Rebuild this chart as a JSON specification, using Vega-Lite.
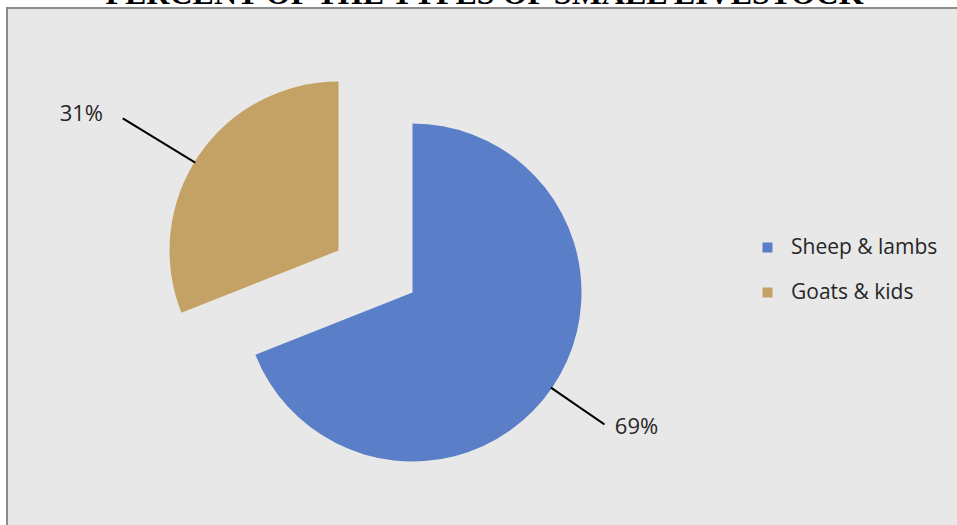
{
  "$schema": "https://vega.github.io/schema/vega-lite/v6.json",
  "autosize": {"type": "none"},
  "padding": {"left": 7, "top": 8, "right": 0, "bottom": 0},
  "width": 955,
  "height": 525,
  "background": "white",
  "view": {"fill": "#e8e8e8", "stroke": "#8c8c8c", "strokeWidth": 2},
  "data": {
    "values": [
      {"category": "Sheep & lambs", "value": 0.69},
      {"category": "Goats & kids", "value": 0.31}
    ]
  },
  "transform": [
    {"stack": "value", "groupby": [], "as": ["v0", "v1"], "sort": [{"field": "value", "order": "descending"}]}
  ],
  "layer": [
    {
      "data": {"values": [{"title": "PERCENT OF THE TYPES OF SMALL LIVESTOCK"}]},
      "mark": {"type": "text", "font": "Liberation Serif", "fontSize": 32, "fontWeight": "bold", "color": "black", "align": "center", "baseline": "alphabetic", "yOffset": -266.5},
      "encoding": {"text": {"field": "title", "type": "nominal"}}
    },
    {
      "transform": [{"filter": "datum.category === 'Sheep & lambs'"}],
      "mark": {"type": "arc", "radius": 169, "xOffset": -72, "yOffset": 22},
      "encoding": {
        "theta": {"field": "v0", "type": "quantitative", "scale": {"domain": [0, 1]}},
        "theta2": {"field": "v1"},
        "color": {
          "field": "category",
          "type": "nominal",
          "scale": {"domain": ["Sheep & lambs", "Goats & kids"], "range": ["#5b7ec8", "#c4a265"]},
          "legend": {
            "title": null,
            "orient": "none",
            "legendX": 750,
            "legendY": 229,
            "padding": 0,
            "symbolType": "square",
            "symbolSize": 100,
            "symbolStrokeWidth": 0,
            "labelFont": "Open Sans",
            "labelFontSize": 21,
            "labelColor": "#262626",
            "labelOffset": 13,
            "rowPadding": 23
          }
        }
      }
    },
    {
      "transform": [{"filter": "datum.category === 'Goats & kids'"}],
      "mark": {"type": "arc", "radius": 169, "xOffset": -146, "yOffset": -20},
      "encoding": {
        "theta": {"field": "v0", "type": "quantitative", "scale": {"domain": [0, 1]}},
        "theta2": {"field": "v1"},
        "color": {"field": "category", "type": "nominal"}
      }
    },
    {
      "transform": [{"filter": "datum.category === 'Goats & kids'"}],
      "mark": {"type": "arc", "radius": 252, "radius2": 169, "thetaOffset": 0.9268, "theta2Offset": -1.021, "xOffset": -146, "yOffset": -20, "stroke": "black", "strokeWidth": 2, "fill": "black"},
      "encoding": {
        "theta": {"field": "v0", "type": "quantitative", "scale": {"domain": [0, 1]}},
        "theta2": {"field": "v1"}
      }
    },
    {
      "transform": [{"filter": "datum.category === 'Sheep & lambs'"}],
      "mark": {"type": "arc", "radius": 232, "radius2": 169, "thetaOffset": 2.1729, "theta2Offset": -2.1624, "xOffset": -72, "yOffset": 22, "stroke": "black", "strokeWidth": 2, "fill": "black"},
      "encoding": {
        "theta": {"field": "v0", "type": "quantitative", "scale": {"domain": [0, 1]}},
        "theta2": {"field": "v1"}
      }
    },
    {
      "transform": [{"filter": "datum.category === 'Goats & kids'"}],
      "mark": {"type": "text", "radius": 291, "thetaOffset": 0.864, "xOffset": -146, "yOffset": -20, "font": "Open Sans", "fontSize": 22, "color": "#262626", "align": "center", "baseline": "middle"},
      "encoding": {
        "theta": {"field": "v0", "type": "quantitative", "scale": {"domain": [0, 1]}},
        "text": {"field": "value", "type": "quantitative", "format": ".0%"}
      }
    },
    {
      "transform": [{"filter": "datum.category === 'Sheep & lambs'"}],
      "mark": {"type": "text", "radius": 261, "thetaOffset": 2.11, "xOffset": -72, "yOffset": 22, "font": "Open Sans", "fontSize": 22, "color": "#262626", "align": "center", "baseline": "middle"},
      "encoding": {
        "theta": {"field": "v0", "type": "quantitative", "scale": {"domain": [0, 1]}},
        "text": {"field": "value", "type": "quantitative", "format": ".0%"}
      }
    }
  ]
}
